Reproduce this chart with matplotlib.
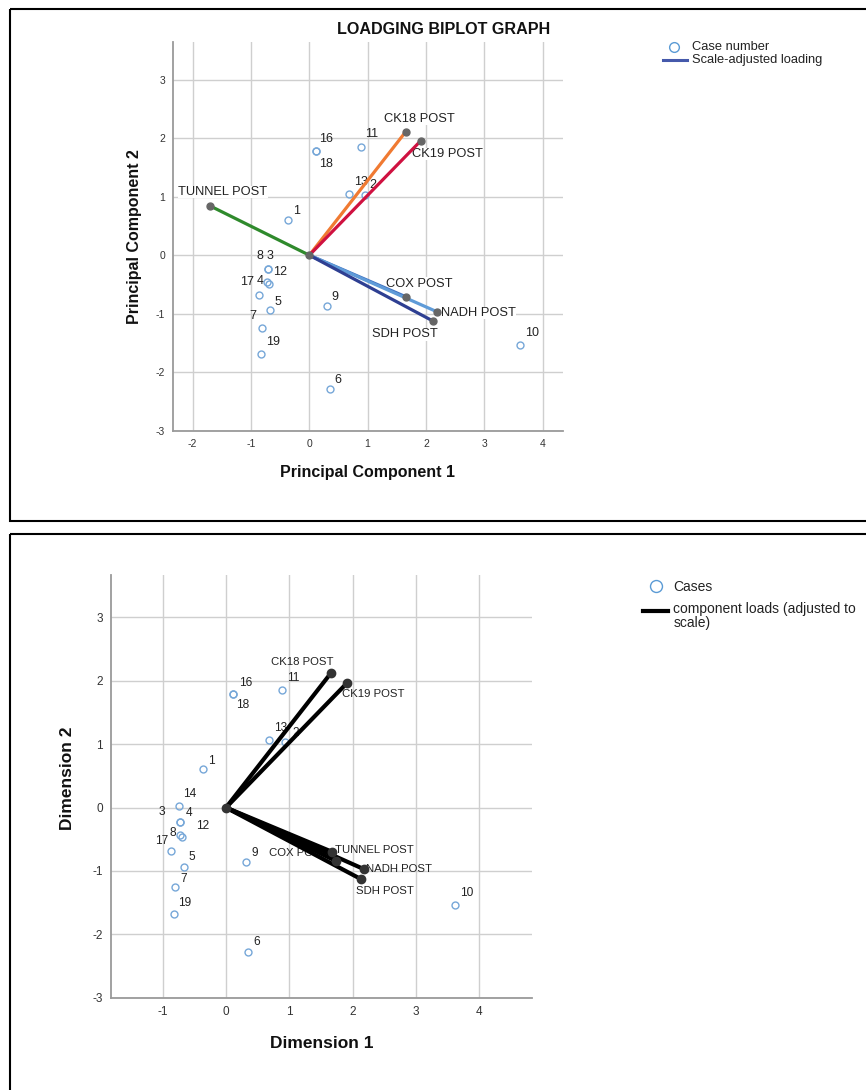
import numpy as np
import matplotlib
matplotlib.use("Agg")
import matplotlib.pyplot as plt
from matplotlib.patches import Rectangle

plt.rcParams['font.family'] = ['Liberation Sans', 'DejaVu Sans']
plt.rcParams['axes.unicode_minus'] = False

# --- top chart: PCA biplot (Principal Component 1 / 2) ---
top_ids = [1, 2, 3, 4, 5, 6, 7, 8, 9, 10, 11, 12, 13, 16, 17, 18, 19]
top_x = [-0.36, 0.954, -0.714, -0.731, -0.669, 0.349, -0.806, -0.714, 0.309,
         3.617, 0.891, -0.691, 0.686, 0.114, -0.857, 0.114, -0.829]
top_y = [0.598, 1.026, -0.228, -0.456, -0.929, -2.279, -1.242, -0.228, -0.866,
         -1.538, 1.846, -0.484, 1.054, 1.783, -0.684, 1.783, -1.681]

top_vars = ['TUNNEL POST', 'CK18 POST', 'CK19 POST', 'COX POST', 'NADH POST', 'SDH POST']
top_load_x = [-1.703, 1.651, 1.909, 1.657, 2.194, 2.126]
top_load_y = [0.843, 2.108, 1.954, -0.712, -0.969, -1.128]

# --- bottom chart: CATPCA biplot (Dimension 1 / 2) ---
bot_ids = [1, 2, 3, 4, 5, 6, 7, 8, 9, 10, 11, 12, 13, 14, 16, 17, 18, 19]
bot_x = [-0.358, 0.937, -0.726, -0.726, -0.663, 0.353, -0.80, -0.726, 0.31,
         3.616, 0.889, -0.695, 0.684, -0.742, 0.116, -0.863, 0.116, -0.826]
bot_y = [0.605, 1.037, -0.221, -0.221, -0.931, -2.284, -1.247, -0.43, -0.857,
         -1.536, 1.858, -0.47, 1.063, 0.027, 1.795, -0.678, 1.795, -1.679]

bot_vars = ['CK18 POST', 'CK19 POST', 'TUNNEL POST', 'COX POST', 'NADH POST', 'SDH POST']
bot_load_x = [1.653, 1.905, 1.668, 1.737, 2.184, 2.137]
bot_load_y = [2.116, 1.958, -0.695, -0.842, -0.974, -1.131]

# styles
top_colors = {'TUNNEL POST': '#2f8a2c', 'CK18 POST': '#f07a32', 'CK19 POST': '#cf1140',
              'COX POST': '#3d6fc0', 'NADH POST': '#5f9bd8', 'SDH POST': '#2e3f92'}
# label offsets in pixels (dx, dy down-positive)
top_case_off = {1: (8, -9), 2: (8, -10), 3: (2, -13), 4: (-7, -1), 5: (8, -8), 6: (8, -9),
                7: (-9, -12), 8: (-8, -13), 9: (8, -9), 10: (12, -12), 11: (10, -13),
                12: (11, -12), 13: (12, -12), 16: (10, -12), 17: (-12, -13), 18: (10, 13),
                19: (12, -12)}
bot_case_off = {1: (8, -8), 2: (10, -9), 3: (-18, -10), 4: (9, -9), 5: (8, -10), 6: (8, -10),
                7: (8, -8), 8: (-7, -2), 9: (9, -9), 10: (12, -12), 11: (11, -12),
                12: (21, -11), 13: (11, -12), 14: (11, -12), 16: (12, -11), 17: (-10, -10),
                18: (9, 11), 19: (11, -11)}
top_var_off = {'TUNNEL POST': (13, -14, 'center'), 'CK18 POST': (14, -13, 'center'),
               'CK19 POST': (27, 13, 'center'), 'COX POST': (13, -13, 'center'),
               'NADH POST': (4, 1, 'left'), 'SDH POST': (-28, 13, 'center')}
bot_var_off = {'CK18 POST': (-28, -11, 'center'), 'CK19 POST': (27, 11, 'center'),
               'TUNNEL POST': (3, -2, 'left'), 'COX POST': (-38, -8, 'center'),
               'NADH POST': (2, 0, 'left'), 'SDH POST': (24, 12, 'center')}

W, H = 866, 1090
fig = plt.figure(figsize=(W / 100, H / 100), dpi=100)
PX = 0.72  # points per pixel


def setup(ax, xlim, ylim, fs):
    ax.set_xlim(*xlim)
    ax.set_ylim(*ylim)
    ax.set_xticks(range(int(np.ceil(xlim[0])), int(np.floor(xlim[1])) + 1))
    ax.set_yticks(range(-3, 4))
    ax.grid(True, color='#cfcfcf', lw=1.0, zorder=0)
    ax.set_axisbelow(True)
    for s in ['top', 'right']:
        ax.spines[s].set_visible(False)
    for s in ['left', 'bottom']:
        ax.spines[s].set_color('#9a9a9a')
        ax.spines[s].set_linewidth(1.3)
    ax.tick_params(length=0, labelsize=fs, colors='#333333', pad=6)


def biplot(ax, ids, xs, ys, off, names, lx, ly, voff, colors, lw, dot, fs_num, fs_var, lab_bg):
    ax.plot(xs, ys, 'o', ms=5, mfc='none', mec='#76a7d8', mew=1.0, zorder=3)
    for i, x, y in zip(ids, xs, ys):
        dx, dy = off[i]
        ax.annotate(str(i), (x, y), xytext=(dx * PX, -dy * PX), textcoords='offset points',
                    ha='center', va='center', fontsize=fs_num, color='#222222', zorder=2)
    dot_col = '#666666' if lab_bg else '#333333'
    for n, x, y in zip(names, lx, ly):
        ax.plot([0, x], [0, y], color=colors[n], lw=lw, solid_capstyle='butt', zorder=4)
        ax.plot([x], [y], 'o', ms=dot, color=dot_col, zorder=5)
        dx, dy, ha = voff[n]
        bbox = dict(fc='white', ec='none', pad=0.3) if lab_bg else None
        ax.annotate(n, (x, y), xytext=(dx * PX, -dy * PX), textcoords='offset points',
                    ha=ha, va='center', fontsize=fs_var, color='#222222', zorder=2, bbox=bbox)
    ax.plot([0], [0], 'o', ms=dot, color=dot_col, zorder=5)


# top axes: pixel box 173.3..562.7 x 41.7..430.7
ax1 = fig.add_axes([173.3 / W, 1 - 430.7 / H, 389.4 / W, 389.0 / H])
setup(ax1, (-2.333, 4.346), (-3, 3.65), 7.5)
biplot(ax1, top_ids, top_x, top_y, top_case_off, top_vars, top_load_x, top_load_y,
       top_var_off, top_colors, 2.3, 5, 9, 9.3, True)

# bottom axes: pixel box 111..532.3 x 575..997.7
ax2 = fig.add_axes([111 / W, 1 - 997.7 / H, 421.3 / W, 422.7 / H])
setup(ax2, (-1.817, 4.84), (-3, 3.67), 8.5)
biplot(ax2, bot_ids, bot_x, bot_y, bot_case_off, bot_vars, bot_load_x, bot_load_y,
       bot_var_off, {n: 'black' for n in bot_vars}, 3.0, 6, 8.6, 8.2, False)

# overlay in pixel coordinates: frames, titles, axis labels, legends
ov = fig.add_axes([0, 0, 1, 1], zorder=10)
ov.set_xlim(0, W)
ov.set_ylim(H, 0)
ov.axis('off')
ov.patch.set_alpha(0)
ov.add_patch(Rectangle((10, 8.5), 870, 512, fill=False, ec='black', lw=1.5))
ov.add_patch(Rectangle((10, 533.5), 870, 600, fill=False, ec='black', lw=1.5))

ov.text(444, 30, 'LOADGING BIPLOT GRAPH', ha='center', va='center', fontsize=11.6,
        fontweight='bold', color='#111111')
ov.text(368, 472, 'Principal Component 1', ha='center', va='center', fontsize=11.5,
        fontweight='bold', color='#111111')
ov.text(135, 237, 'Principal Component 2', ha='center', va='center', fontsize=11.5,
        fontweight='bold', rotation=90, color='#111111')
ov.text(321.7, 1043, 'Dimension 1', ha='center', va='center', fontsize=12.5,
        fontweight='bold', color='#111111')
ov.text(68, 778, 'Dimension 2', ha='center', va='center', fontsize=12.5,
        fontweight='bold', rotation=90, color='#111111')

# top legend
ov.plot([674], [47.3], 'o', ms=7, mfc='none', mec='#5b9bd5', mew=1.0)
ov.plot([663, 687], [60, 60], color='#4559ab', lw=2.2)
ov.text(691.7, 47.3, 'Case number', ha='left', va='center', fontsize=9.3, color='#222222')
ov.text(691.7, 60.5, 'Scale-adjusted loading', ha='left', va='center', fontsize=9.3, color='#222222')

# bottom legend
ov.plot([656], [586], 'o', ms=8.6, mfc='none', mec='#5b9bd5', mew=1.0)
ov.plot([642.7, 668.3], [610.7, 610.7], color='black', lw=3)
ov.text(673.3, 587, 'Cases', ha='left', va='center', fontsize=10, color='#222222')
ov.text(673.3, 609, 'component loads (adjusted to', ha='left', va='center', fontsize=10,
        color='#222222', clip_on=False)
ov.text(673.3, 623, 'scale)', ha='left', va='center', fontsize=10, color='#222222')

fig.savefig('out.png', dpi=100)
